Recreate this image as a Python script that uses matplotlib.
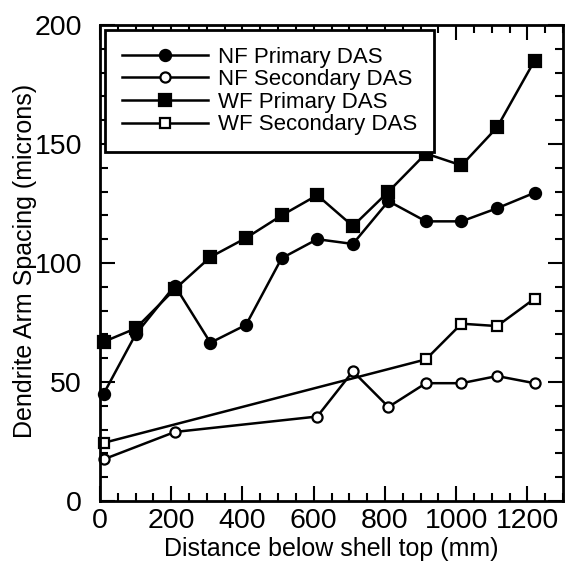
import matplotlib
matplotlib.use("Agg")
import matplotlib.pyplot as plt
from matplotlib.ticker import MultipleLocator

plt.rcParams["font.family"] = ["Liberation Sans", "DejaVu Sans"]

# distance below shell top (mm) and dendrite arm spacing (microns)
nf_x = [10, 100, 210, 310, 410, 510, 610, 710, 810, 915, 1015, 1115, 1220]
nf_primary = [45, 70, 90.5, 66.5, 74, 102, 110, 108, 126, 117.5, 117.5, 123, 129.5]
wf_x = [12, 100, 210, 310, 410, 510, 610, 710, 810, 915, 1015, 1115, 1220]
wf_primary = [67, 72.5, 89, 102.5, 110.5, 120, 128.5, 115.5, 130, 146, 141, 157, 185]

nf_sec_x = [10, 210, 610, 710, 810, 915, 1015, 1115, 1220]
nf_secondary = [17.5, 29, 35.5, 54.5, 39.5, 49.5, 49.5, 52.5, 49.5]
wf_sec_x = [12, 915, 1015, 1115, 1220]
wf_secondary = [24.5, 59.5, 74.5, 73.5, 85]

fig = plt.figure(figsize=(5.66, 5.71), dpi=100)
ax = fig.add_axes([100 / 566, 70 / 571, 463 / 566, 476 / 571])

kw = dict(color="black", lw=1.8, markeredgewidth=1.6, markeredgecolor="black",
          clip_on=False)
ax.plot(nf_x, nf_primary, "o-", ms=8, label="NF Primary DAS", **kw)
ax.plot(nf_sec_x, nf_secondary, "o-", ms=7.3, markerfacecolor="white",
        label="NF Secondary DAS", **kw)
ax.plot(wf_x, wf_primary, "s-", ms=9, label="WF Primary DAS", **kw)
ax.plot(wf_sec_x, wf_secondary, "s-", ms=7, markerfacecolor="white",
        label="WF Secondary DAS", **kw)

ax.set_xlim(0, 1300)
ax.set_ylim(0, 200)
ax.xaxis.set_major_locator(MultipleLocator(200))
ax.xaxis.set_minor_locator(MultipleLocator(50))
ax.yaxis.set_major_locator(MultipleLocator(50))
ax.yaxis.set_minor_locator(MultipleLocator(10))
ax.tick_params(which="both", direction="in", top=True, right=True, width=1.5)
ax.tick_params(which="major", length=10.5, labelsize=20.5)
ax.tick_params(which="minor", length=6)
ax.tick_params(axis="x", which="major", pad=5)
ax.tick_params(axis="y", which="major", pad=13)
for s in ax.spines.values():
    s.set_linewidth(2)

ax.set_xlabel("Distance below shell top (mm)", fontsize=18, labelpad=2)
ax.set_ylabel("Dendrite Arm Spacing (microns)", fontsize=18)
ax.yaxis.set_label_coords(-0.136, 0.505)

leg = ax.legend(loc="upper left", bbox_to_anchor=(0.0108, 0.9895), borderaxespad=0,
                fontsize=16, handlelength=3.9, labelspacing=0.07,
                fancybox=False, framealpha=1, edgecolor="black",
                borderpad=0.75, handletextpad=0.45)
leg.get_frame().set_linewidth(2)

fig.savefig("out.png", dpi=100)
